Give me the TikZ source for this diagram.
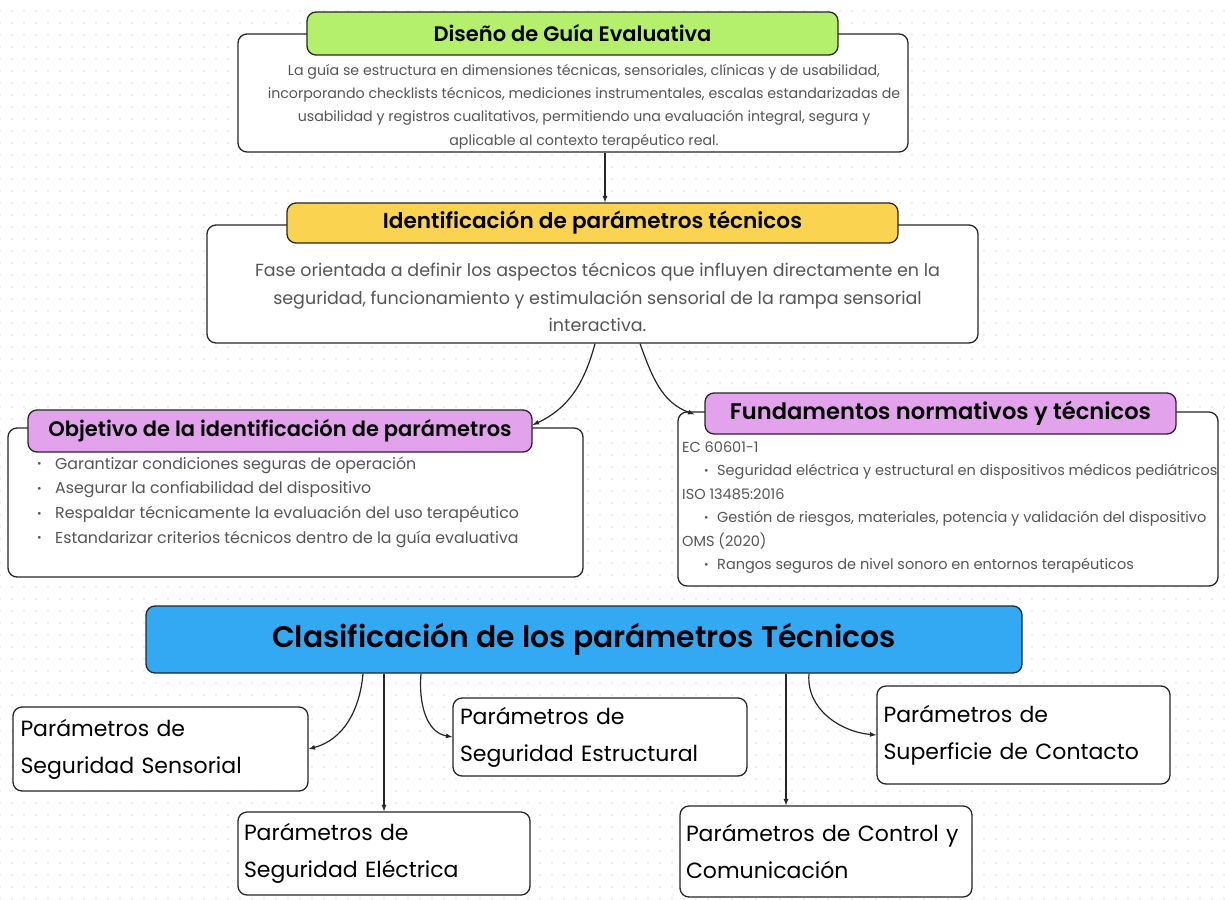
\documentclass[tikz,border=0pt]{standalone}
\usepackage{fontspec}
\setmainfont{Poppins}[BoldFont={Poppins SemiBold}]
\usetikzlibrary{patterns.meta}

\definecolor{inkDark}{HTML}{262626}
\definecolor{textGray}{HTML}{555555}
\definecolor{guiaGreen}{HTML}{B4F06C}
\definecolor{idYellow}{HTML}{FAD450}
\definecolor{paramLilac}{HTML}{E2A3EC}
\definecolor{clasBlue}{HTML}{33A8F3}
\definecolor{dotGray}{HTML}{DCDCDC}

\newcommand{\bulletmark}[1]{\makebox[#1][l]{\raisebox{1.4pt}{\fontsize{11}{11}\selectfont\textbullet}}}

\tikzset{
  frame/.style={draw=inkDark, line width=1.3pt, rounded corners=9pt, fill=white},
  head/.style={frame, text=black, font=\bfseries\fontsize{21}{23}\selectfont},
  bodytext/.style={text=textGray, inner sep=0pt},
  param/.style={frame, text=black, font=\fontsize{22}{37}\selectfont, align=left, text width=280pt, inner xsep=6pt},
  link/.style={draw=inkDark, line width=1.2pt, -latex},
}

\begin{document}
\begin{tikzpicture}[x=1pt, y=-1pt]
  \useasboundingbox (0,0) rectangle (1225,899);
  \fill[white] (0,0) rectangle (1225,899);
  \fill[pattern={Dots[radius=0.9pt, distance=12pt]}, pattern color=dotGray] (0,0) rectangle (1225,899);

  % diseño de la guía
  \node[frame, minimum width=670, minimum height=118] (guiaBody) at (573,93) {};
  \node[head, fill=guiaGreen, minimum width=531, minimum height=43] (guiaHead) at (572.5,33.5) {Diseño de Guía Evaluativa};
  \node[bodytext, align=center, font=\fontsize{14.2}{23.3}\selectfont] (guiaText) at (584,106.5)
    {La guía se estructura en dimensiones técnicas, sensoriales, clínicas y de usabilidad,\\
     incorporando checklists técnicos, mediciones instrumentales, escalas estandarizadas de\\
     usabilidad y registros cualitativos, permitiendo una evaluación integral, segura y\\
     aplicable al contexto terapéutico real.};

  % identificación
  \node[frame, minimum width=771, minimum height=118] (idBody) at (592.5,284) {};
  \node[head, fill=idYellow, minimum width=611, minimum height=40, font=\bfseries\fontsize{21.6}{23}\selectfont] (idHead) at (592.5,223) {Identificación de parámetros técnicos};
  \node[bodytext, align=center, font=\fontsize{17.5}{27.5}\selectfont] (idText) at (597.5,297.5)
    {Fase orientada a definir los aspectos técnicos que influyen directamente en la\\
     seguridad, funcionamiento y estimulación sensorial de la rampa sensorial\\
     interactiva.};

  % objetivo
  \node[frame, minimum width=575, minimum height=149] (objBody) at (295.5,502.5) {};
  \node[head, fill=paramLilac, minimum width=504, minimum height=42] (objHead) at (280,431) {Objetivo de la identificación de parámetros};
  \node[bodytext, align=left, anchor=west, font=\fontsize{15.8}{24.7}\selectfont] (objText) at (37,502)
    {\bulletmark{18pt}Garantizar condiciones seguras de operación\\
     \bulletmark{18pt}Asegurar la confiabilidad del dispositivo\\
     \bulletmark{18pt}Respaldar técnicamente la evaluación del uso terapéutico\\
     \bulletmark{18pt}Estandarizar criterios técnicos dentro de la guía evaluativa};

  % fundamentos
  \node[frame, minimum width=540, minimum height=174] (fundBody) at (948,499) {};
  \node[head, fill=paramLilac, minimum width=471, minimum height=41, font=\bfseries\fontsize{22.6}{24}\selectfont] (fundHead) at (940.5,413.5) {Fundamentos normativos y técnicos};
  \node[bodytext, align=left, anchor=west, font=\fontsize{14.5}{23.4}\selectfont] (fundText) at (682,507.5)
    {EC 60601-1\\
     \hspace*{22pt}\bulletmark{13pt}Seguridad eléctrica y estructural en dispositivos médicos pediátricos\\
     ISO 13485:2016\\
     \hspace*{22pt}\bulletmark{13pt}Gestión de riesgos, materiales, potencia y validación del dispositivo\\
     OMS (2020)\\
     \hspace*{22pt}\bulletmark{13pt}Rangos seguros de nivel sonoro en entornos terapéuticos};

  % clasificación
  \node[frame, fill=clasBlue, minimum width=876, minimum height=67, text=black, font=\bfseries\fontsize{29.8}{32}\selectfont] (clasBox) at (584,639.5) {Clasificación de los parámetros Técnicos};

  \node[param, minimum width=295, minimum height=84] (sensBox) at (160.5,749) {Parámetros de\\Seguridad Sensorial};
  \node[param, minimum width=292, minimum height=83] (elecBox) at (384,853.5) {Parámetros de\\Seguridad Eléctrica};
  \node[param, minimum width=294, minimum height=78] (estrBox) at (600,737) {Parámetros de\\Seguridad Estructural};
  \node[param, minimum width=292, minimum height=91] (ctrlBox) at (826,851.5) {Parámetros de Control y\\Comunicación};
  \node[param, minimum width=293, minimum height=98] (supBox) at (1023.5,735) {Parámetros de\\Superficie de Contacto};

  % conectores
  \draw[link] ([xshift=32pt]guiaBody.south) -- ([xshift=12.5pt]idHead.north);
  \draw[link] ([xshift=2.5pt]idBody.south) to[out=-105, in=25] ([yshift=6pt]objHead.east);
  \draw[link] ([xshift=47.5pt]idBody.south) to[out=-70, in=160] ([xshift=17pt, yshift=-3pt]fundBody.north west);
  \draw[link] ([xshift=-221pt]clasBox.south) to[out=-95, in=15] (sensBox.east);
  \draw[link] (elecBox.north |- clasBox.south) -- (elecBox.north);
  \draw[link] ([xshift=-163pt]clasBox.south) to[out=-95, in=170] (estrBox.west);
  \draw[link] ([xshift=-40pt]ctrlBox.north |- clasBox.south) -- ([xshift=-40pt]ctrlBox.north);
  \draw[link] ([xshift=225pt]clasBox.south) to[out=-95, in=175] (supBox.west);
\end{tikzpicture}
\end{document}
